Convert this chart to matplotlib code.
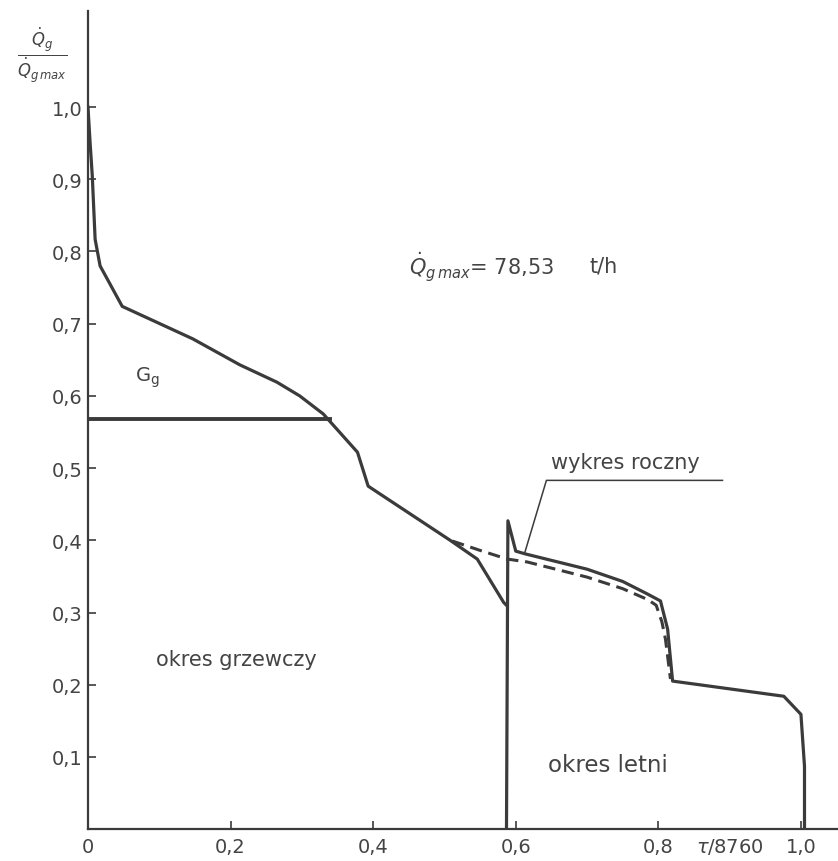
import numpy as np
import matplotlib.pyplot as plt

# --- data ---
# heating period (okres grzewczy)
heat_x = [0.0, 0.003, 0.006, 0.010, 0.017, 0.027, 0.048, 0.147, 0.213, 0.265,
          0.297, 0.330, 0.378, 0.393, 0.508, 0.546, 0.583, 0.587]
heat_y = [1.0, 0.95, 0.905, 0.817, 0.78, 0.762, 0.724, 0.679, 0.643, 0.619,
          0.600, 0.575, 0.522, 0.475, 0.400, 0.374, 0.314, 0.310]
# summer period (okres letni), starting with the vertical at the border
summer_x = [0.587, 0.589, 0.600, 0.614, 0.700, 0.750, 0.784, 0.803, 0.813,
            0.820, 0.976, 1.000, 1.005, 1.005]
summer_y = [0.0, 0.427, 0.385, 0.381, 0.360, 0.343, 0.326, 0.316, 0.277,
            0.205, 0.184, 0.159, 0.087, 0.0]
# annual curve (wykres roczny), dashed
annual_x = [0.511, 0.550, 0.588, 0.616, 0.700, 0.750, 0.785, 0.797, 0.805,
            0.810, 0.817]
annual_y = [0.399, 0.386, 0.374, 0.370, 0.349, 0.333, 0.318, 0.310, 0.287,
            0.263, 0.208]
# G_g level
gg_level = 0.568
gg_end = 0.34

yticks = [0.1, 0.2, 0.3, 0.4, 0.5, 0.6, 0.7, 0.8, 0.9, 1.0]
ylabels = ['0,1', '0,2', '0,3', '0,4', '0,5', '0,6', '0,7', '0,8', '0,9', '1,0']
xticks = [0.0, 0.2, 0.4, 0.6, 0.8, 1.0]
xlabels = ['0', '0,2', '0,4', '0,6', '0,8', '1,0']

ink = '#3b3b3b'
txt = '#444444'
plt.rcParams['font.family'] = ['DejaVu Sans']
plt.rcParams['mathtext.fontset'] = 'dejavusans'

fig = plt.figure(figsize=(8.38, 8.62), dpi=100)
ax = fig.add_axes([0.105, 0.037, 0.895, 0.949])
ax.set_xlim(0, 1.052)
ax.set_ylim(0, 1.133)

ax.plot(heat_x, heat_y, color=ink, lw=2.3, solid_joinstyle='round')
ax.plot(summer_x, summer_y, color=ink, lw=2.3, solid_joinstyle='round')
ax.plot(annual_x, annual_y, color=ink, lw=2.2, dashes=(4, 2.2))
ax.plot([0, gg_end], [gg_level, gg_level], color=ink, lw=2.8)

# leader from "wykres roczny"
ax.plot([0.613, 0.643, 0.89], [0.384, 0.483, 0.483], color=ink, lw=1.1)

for s in ['top', 'right']:
    ax.spines[s].set_visible(False)
for s in ['left', 'bottom']:
    ax.spines[s].set_color(ink)
    ax.spines[s].set_linewidth(1.6)

ax.set_yticks(yticks)
ax.set_yticklabels(ylabels)
ax.set_xticks(xticks)
ax.set_xticklabels(xlabels)
ax.tick_params(direction='in', length=6, width=1.2, color=ink,
               labelsize=14, labelcolor=txt)
ax.tick_params(axis='y', pad=4)
ax.tick_params(axis='x', pad=6)

ax.text(0.90, -0.024, r'$\tau$/8760', fontsize=14, color=txt,
        ha='center', va='center', clip_on=False)
ax.text(0.066, 0.626, r'$\mathrm{G_g}$', fontsize=14, color=txt,
        ha='left', va='center')
ax.text(0.095, 0.235, 'okres grzewczy', fontsize=15, color=txt,
        ha='left', va='center')
ax.text(0.645, 0.089, 'okres letni', fontsize=16.5, color=txt,
        ha='left', va='center')
ax.text(0.65, 0.508, 'wykres roczny', fontsize=15, color=txt,
        ha='left', va='center')
ax.text(0.45, 0.78, r'$\dot{Q}_{g\,max}$= 78,53', fontsize=15,
        color=txt, ha='left', va='center')
ax.text(0.704, 0.78, 't/h', fontsize=15, color=txt, ha='left', va='center')

fig.text(0.05, 0.935, r'$\frac{\dot{Q}_g}{\dot{Q}_{g\,max}}$', fontsize=17,
         color=txt, ha='center', va='center')

fig.savefig('out.png', dpi=100, facecolor='white')
